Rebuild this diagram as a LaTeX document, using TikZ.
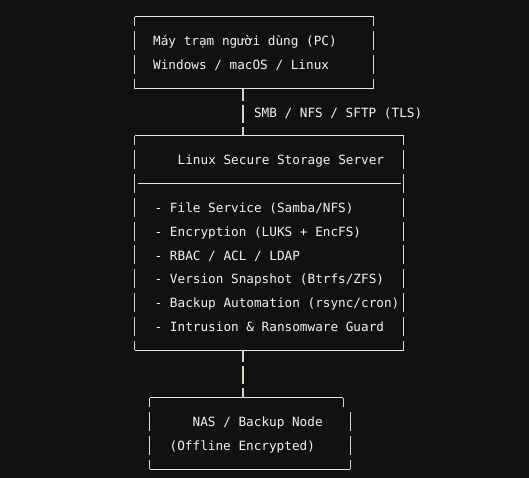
\documentclass[tikz,border=0pt]{standalone}
\usepackage{fontspec}
\setmonofont{DejaVu Sans Mono}
\definecolor{bgdark}{HTML}{111111}
\definecolor{termtext}{HTML}{F2F2F2}
\definecolor{hrule}{HTML}{E8E8E8}
\definecolor{vrule}{HTML}{DAD7BC}

\begin{document}
\begin{tikzpicture}
		[x=1pt, y=-1pt,
		box/.style ={rectangle, draw=none, inner sep=0pt},
		txt/.style ={anchor=base west, inner sep=0pt, text=termtext, font=\ttfamily\fontsize{12.7pt}{15pt}\selectfont},
		hline/.style ={draw=hrule, line width=1pt},
		vline/.style ={draw=vrule, line width=1.3pt, dash pattern=on 19pt off 4.8pt, dash phase=9.5pt},
		link/.style ={vline, dash pattern=on 18pt off 4pt, dash phase=6pt},
		]

		\fill[bgdark] (0,0) rectangle (529,478);
		\useasboundingbox (0,0) rectangle (529,478);

		\draw (254.15,52.7) node[box, minimum width=238.3pt, minimum height=71.4pt] (PC) {};
		\draw (269.25,243.1) node[box, minimum width=268.5pt, minimum height=214.2pt] (Server) {};
		\draw (250,433.5) node[box, minimum width=200pt, minimum height=71.4pt] (NAS) {};

		\draw (153,45.8) node[txt] (pc1) {Máy trạm người dùng (PC)};
		\draw (153,69.6) node[txt] (pc2) {Windows / macOS / Linux};
		\draw (253.8,117.2) node[txt] (proto) {SMB / NFS / SFTP (TLS)};
		\draw (177.5,164.8) node[txt] (srv0) {Linux Secure Storage Server};
		\draw (154.5,212.4) node[txt] (srv1) {- File Service (Samba/NFS)};
		\draw (154.5,236.2) node[txt] (srv2) {- Encryption (LUKS + EncFS)};
		\draw (154.5,260) node[txt] (srv3) {- RBAC / ACL / LDAP};
		\draw (154.5,283.8) node[txt] (srv4) {- Version Snapshot (Btrfs/ZFS)};
		\draw (154.5,307.6) node[txt] (srv5) {- Backup Automation (rsync/cron)};
		\draw (154.5,331.4) node[txt] (srv6) {- Intrusion \& Ransomware Guard};
		\draw (192.5,426.6) node[txt] (nas1) {NAS / Backup Node};
		\draw (169.5,450.4) node[txt] (nas2) {(Offline Encrypted)};

		\draw[hline] (PC.north west) -- (PC.north east);
		\draw[hline] (PC.south west) -- (PC.south east);
		\draw[vline] (PC.north west) -- (PC.south west);
		\draw[vline] (PC.north east) -- (PC.south east);

		\draw[hline] (Server.north west) -- (Server.north east);
		\draw[hline] (Server.south west) -- (Server.south east);
		\draw[hline] ([xshift=3.3pt, yshift=-47.6pt]Server.north west) -- ([xshift=-2.5pt, yshift=-47.6pt]Server.north east);
		\draw[vline] (Server.north west) -- (Server.south west);
		\draw[vline] (Server.north east) -- (Server.south east);

		\draw[hline] (NAS.north west) -- ([xshift=-7pt]NAS.north east);
		\draw[hline] (NAS.south west) -- (NAS.south east);
		\draw[vline] (NAS.north west) -- (NAS.south west);
		\draw[vline] ([xshift=-7pt]NAS.north east) -- ++(0,9.5);
		\draw[vline, dash phase=0pt] ([yshift=-14.3pt]NAS.north east) -- (NAS.south east);

		\coordinate (bus) at (243,0);
		\path[link]
		(bus |- PC.south) edge (bus |- Server.north)
		(bus |- Server.south) edge (bus |- NAS.north);

	\end{tikzpicture}
\end{document}
